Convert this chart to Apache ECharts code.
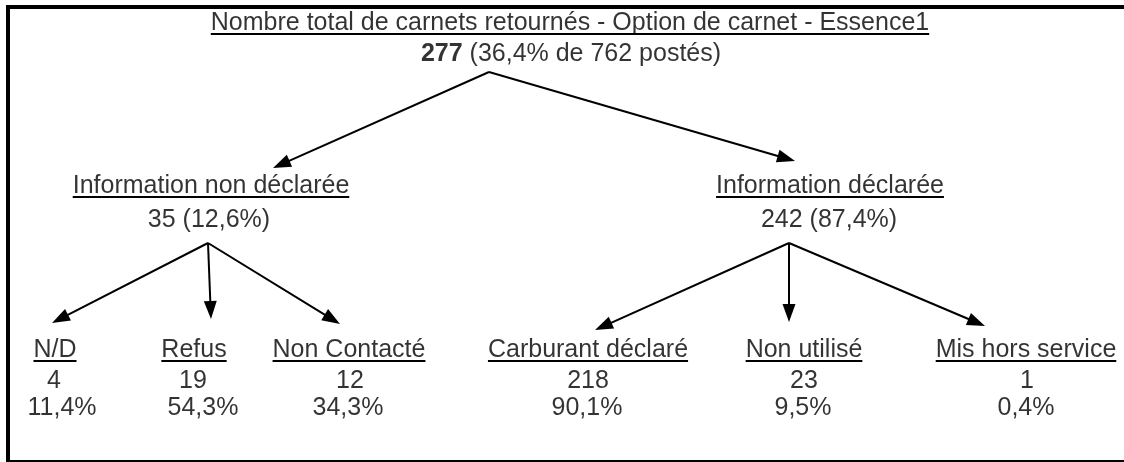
<!DOCTYPE html>
<html><head><meta charset="utf-8">
<script src="https://cdn.jsdelivr.net/npm/echarts@6/dist/echarts.min.js"></script>
<style>html,body{margin:0;padding:0;background:#fff}#c{width:1124px;height:462px}</style>
</head><body><div id="c"></div>
<script>
// ---------- data ----------
const rootTitle = 'Nombre total de carnets retournés - Option de carnet - Essence1';
const rootCount = 277;
const rootShare = '36,4%';
const rootPosted = 762;
const branchNames = ['Information non déclarée', 'Information déclarée'];
const branchCounts = [35, 242];
const branchShares = ['12,6%', '87,4%'];
const leafNames = ['N/D', 'Refus', 'Non Contacté', 'Carburant déclaré', 'Non utilisé', 'Mis hors service'];
const leafCounts = [4, 19, 12, 218, 23, 1];
const leafShares = ['11,4%', '54,3%', '34,3%', '90,1%', '9,5%', '0,4%'];
const leafParent = [0, 0, 0, 1, 1, 1];

// ---------- layout (diagram positions on a 1124 x 462 value grid) ----------
const FONT = '"Liberation Sans", Arial, sans-serif';
const FS = 25;
const MID = 7; // baseline -> text middle
const L = {
  titleX: 570, titleBase: 30,
  subX: 571, subBase: 61,
  rootApex: [489, 72],
  branchTip: [[273, 168], [795, 161]],
  branchNameX: [211, 830], branchNameBase: 193,
  branchCountX: [209, 829], branchCountBase: 227,
  branchApex: [[208, 243], [789, 243]],
  leafTip: [[52, 323], [211, 319], [340, 324], [595, 330], [789, 322], [985, 326]],
  leafNameX: [55, 194, 349, 588, 804, 1026], leafNameBase: 357,
  leafCountX: [54, 193, 350, 588, 804, 1027], leafCountBase: 388,
  leafShareX: [62, 203, 348, 587, 803, 1026], leafShareBase: 415,
  ulGap: 4, arrowW: 13, arrowL: 18
};

const ctx = document.createElement('canvas').getContext('2d');
ctx.font = FS + 'px ' + FONT;
const tw = s => ctx.measureText(s).width;

// text nodes
const texts = [];
const underlines = [];
function addText(str, x, base, underline) {
  texts.push({ value: [x, base - MID], label: { formatter: str } });
  if (underline) {
    const w = tw(str);
    const y = base + L.ulGap;
    underlines.push({ coords: [[x - w / 2, y], [x + w / 2, y]] });
  }
}
addText(rootTitle, L.titleX, L.titleBase, true);
texts.push({ value: [L.subX, L.subBase - MID], label: { formatter: '{b|' + rootCount + '} (' + rootShare + ' de ' + rootPosted + ' postés)' } });
branchNames.forEach((n, i) => {
  addText(n, L.branchNameX[i], L.branchNameBase, true);
  addText(branchCounts[i] + ' (' + branchShares[i] + ')', L.branchCountX[i], L.branchCountBase, false);
});
leafNames.forEach((n, i) => {
  addText(n, L.leafNameX[i], L.leafNameBase, true);
  addText(String(leafCounts[i]), L.leafCountX[i], L.leafCountBase, false);
  addText(leafShares[i], L.leafShareX[i], L.leafShareBase, false);
});

// arrows: parent apex -> child tip (symbol centred at end, so pull back by half its length)
function arrow(from, tip) {
  const dx = tip[0] - from[0], dy = tip[1] - from[1];
  const d = Math.hypot(dx, dy);
  const k = (L.arrowL / 2) / d;
  return { coords: [from, [tip[0] - dx * k, tip[1] - dy * k]] };
}
const arrows = [];
branchNames.forEach((n, i) => arrows.push(arrow(L.rootApex, L.branchTip[i])));
leafNames.forEach((n, i) => arrows.push(arrow(L.branchApex[leafParent[i]], L.leafTip[i])));

const chart = echarts.init(document.getElementById('c'), null, { renderer: 'canvas' });
chart.setOption({
  animation: false,
  backgroundColor: '#fff',
  grid: { left: 0, right: 0, top: 0, bottom: 0 },
  xAxis: { type: 'value', min: 0, max: 1124, show: false },
  yAxis: { type: 'value', min: 0, max: 462, inverse: true, show: false },
  graphic: [
    { type: 'rect', shape: { x: 6, y: 5, width: 1118, height: 4 }, style: { fill: '#000' } },
    { type: 'rect', shape: { x: 6, y: 5, width: 4, height: 457 }, style: { fill: '#000' } },
    { type: 'rect', shape: { x: 6, y: 460, width: 1118, height: 2 }, style: { fill: '#000' } }
  ],
  series: [
    {
      type: 'lines', coordinateSystem: 'cartesian2d', silent: true,
      symbol: ['none', 'triangle'], symbolSize: [1, [L.arrowW, L.arrowL]],
      lineStyle: { color: '#000', width: 2, opacity: 1 },
      itemStyle: { color: '#000' },
      data: arrows
    },
    {
      type: 'lines', coordinateSystem: 'cartesian2d', silent: true,
      symbol: ['none', 'none'],
      lineStyle: { color: '#000', width: 2, opacity: 1 },
      data: underlines
    },
    {
      type: 'scatter', silent: true, symbolSize: 1,
      itemStyle: { color: 'rgba(0,0,0,0)' },
      label: {
        show: true, position: 'inside', color: '#000', fontSize: FS, fontFamily: FONT,
        rich: { b: { fontWeight: 'bold', fontSize: FS, fontFamily: FONT, color: '#000' } }
      },
      data: texts
    }
  ]
});
</script></body></html>
